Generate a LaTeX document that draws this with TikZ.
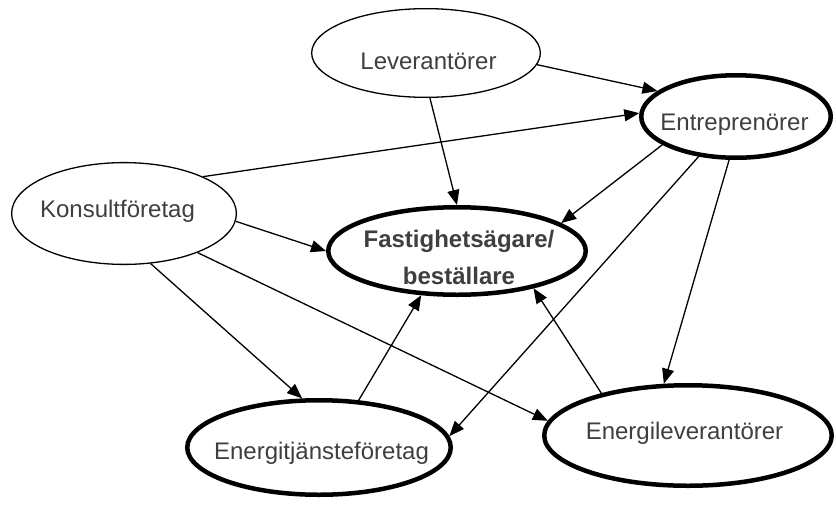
\documentclass[tikz,border=0pt]{standalone}
\usepackage{fontspec}
\setmainfont{Liberation Sans}
\usetikzlibrary{shapes.geometric,arrows.meta}
\definecolor{labelgray}{HTML}{3F3F3F}
\begin{document}
\begin{tikzpicture}[x=1pt,y=-1pt,
  party/.style={ellipse, draw=black, fill=white, inner sep=0pt, line width=1.3pt},
  keyparty/.style={party, line width=4.5pt},
  lbl/.style={text=labelgray, inner sep=0pt, font=\fontsize{24}{37}\selectfont},
  flow/.style={draw=black, line width=1.3pt, -{Triangle[length=15pt,width=12pt]}}]

\path[fill=white] (0,0) rectangle (836,504);
\useasboundingbox (0,0) rectangle (836,504);

% actors
\node[party, minimum width=228.7pt, minimum height=88.7pt] (lev) at (426,53) {};
\node[keyparty, minimum width=189.5pt, minimum height=82.5pt] (ent) at (736,116.5) {};
\node[party, minimum width=224.8pt, minimum height=101.8pt] (kons) at (124,213.5) {};
\node[keyparty, minimum width=257.5pt, minimum height=87.5pt] (fast) at (457,251) {};
\node[keyparty, minimum width=263.5pt, minimum height=94.5pt] (etj) at (319,447.5) {};
\node[keyparty, minimum width=287.5pt, minimum height=100.5pt] (elev) at (688,435.5) {};

% labels
\node[lbl, anchor=base] (levtxt) at (428.5,69) {Leverantörer};
\node[lbl, anchor=base] (enttxt) at (734.5,130.5) {Entreprenörer};
\node[lbl, anchor=base] (konstxt) at (117.5,217.3) {Konsultföretag};
\node[lbl, align=center, font=\fontsize{24}{37}\selectfont\bfseries] (fasttxt) at (459,257.5) {Fastighetsägare/\\beställare};
\node[lbl, anchor=base] (etjtxt) at (321.5,459) {Energitjänsteföretag};
\node[lbl, anchor=base] (elevtxt) at (684.5,439) {Energileverantörer};

% relations
\draw[flow] (lev.-6) -- (ent.162.6);
\draw[flow] (lev.-85) -- (fast.90);
\draw[flow] (kons.25.4) -- (ent.178);
\draw[flow] (kons.-4) -- (fast.180);
\draw[flow] (kons.-62) -- (etj.109);
\draw[flow] (kons.-28.5) -- (elev.174.1);
\draw[flow] (ent.-159) -- (fast.15.7);
\draw[flow] (ent.-133) -- (etj.5.4);
\draw[flow] (ent.-99.4) -- (elev.115.1);
\draw[flow] (etj.50.6) -- (fast.-129.7);
\draw[flow] (elev.154.2) -- (fast.-26.3);
\end{tikzpicture}
\end{document}
